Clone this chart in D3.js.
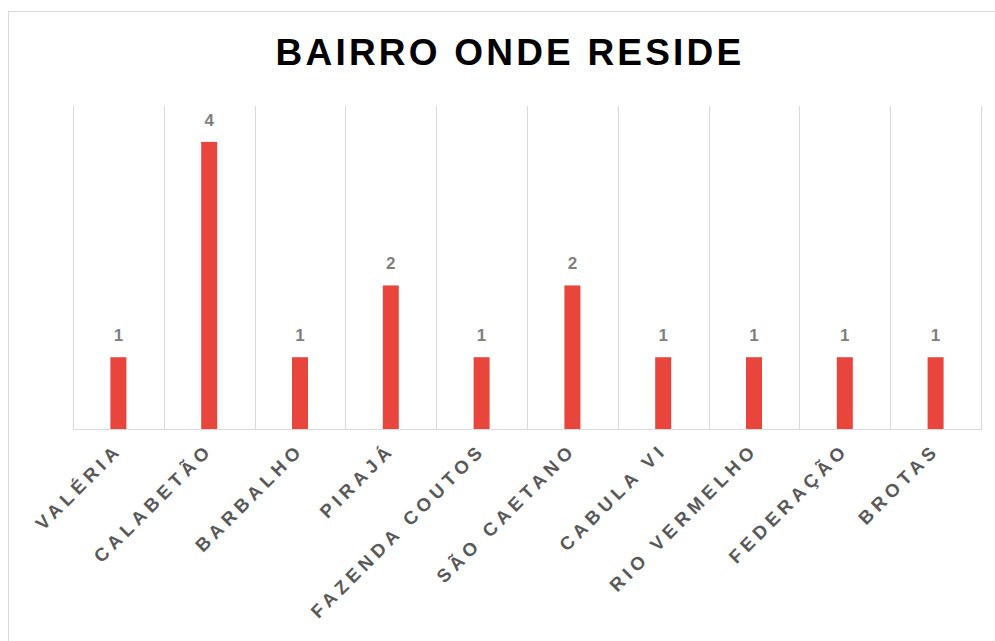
<!DOCTYPE html>
<html>
<head>
<meta charset="utf-8">
<script src="https://cdn.jsdelivr.net/npm/d3@7"></script>
<style>
  body { margin: 0; background: #fff; }
  svg { display: block; }
</style>
</head>
<body>
<div class="canvas"></div>
<script>
const bairros = ['VALÉRIA', 'CALABETÃO', 'BARBALHO', 'PIRAJÁ', 'FAZENDA COUTOS',
    'SÃO CAETANO', 'CABULA VI', 'RIO VERMELHO', 'FEDERAÇÃO', 'BROTAS']
const contagem = [1, 4, 1, 2, 1, 2, 1, 1, 1, 1]
const titulo = 'BAIRRO ONDE RESIDE'

const width = 995
const height = 641

const svg = d3.select('.canvas').append('svg')
    .attr('width', width)
    .attr('height', height)

// chart frame
svg.append('rect')
    .attr('x', 8.5)
    .attr('y', 11.5)
    .attr('width', 1000)
    .attr('height', 700)
    .attr('fill', '#fff')
    .attr('stroke', '#d9d9d9')

svg.append('text')
    .attr('x', 510)
    .attr('y', 65)
    .attr('text-anchor', 'middle')
    .attr('font-family', 'Liberation Sans, Arial, sans-serif')
    .attr('font-weight', 'bold')
    .attr('font-size', 37)
    .attr('letter-spacing', 3.2)
    .attr('fill', '#000')
    .text(titulo)

const x = d3.scaleBand()
    .domain(bairros)
    .range([73, 981])
    .padding(0)

const y = d3.scaleLinear()
    .domain([0, 4.5])
    .range([429, 106])

// vertical gridlines on category boundaries
const bounds = bairros.map(d => x(d)).concat([x.range()[1]])
svg.append('g')
    .selectAll('line')
    .data(bounds)
    .enter()
    .append('line')
    .attr('x1', d => Math.round(d) + 0.5)
    .attr('x2', d => Math.round(d) + 0.5)
    .attr('y1', y.range()[1])
    .attr('y2', y(0))
    .attr('stroke', '#d9d9d9')

svg.append('line')
    .attr('x1', x.range()[0])
    .attr('x2', x.range()[1] + 1)
    .attr('y1', y(0) + 0.5)
    .attr('y2', y(0) + 0.5)
    .attr('stroke', '#d9d9d9')

const barW = 16
const data = bairros.map((b, i) => ({ name: b, value: contagem[i] }))

svg.append('g')
    .selectAll('rect')
    .data(data)
    .enter()
    .append('rect')
    .attr('x', d => x(d.name) + x.bandwidth() / 2 - barW / 2)
    .attr('y', d => y(d.value))
    .attr('width', barW)
    .attr('height', d => y(0) - y(d.value))
    .attr('fill', '#e8453c')

// value labels
svg.append('g')
    .selectAll('text')
    .data(data)
    .enter()
    .append('text')
    .attr('x', d => x(d.name) + x.bandwidth() / 2)
    .attr('y', d => y(d.value) - 16)
    .attr('text-anchor', 'middle')
    .attr('font-family', 'Liberation Sans, Arial, sans-serif')
    .attr('font-weight', 'bold')
    .attr('font-size', 17)
    .attr('fill', '#7f7f7f')
    .text(d => d.value)

// rotated category labels
svg.append('g')
    .selectAll('text')
    .data(bairros)
    .enter()
    .append('text')
    .attr('transform', d => `translate(${x(d) + x.bandwidth() / 2 + 5}, 451) rotate(-45)`)
    .attr('text-anchor', 'end')
    .attr('font-family', 'Liberation Sans, Arial, sans-serif')
    .attr('font-weight', 'bold')
    .attr('font-size', 18.5)
    .attr('letter-spacing', 4.8)
    .attr('fill', '#595959')
    .text(d => d)
</script>
</body>
</html>
